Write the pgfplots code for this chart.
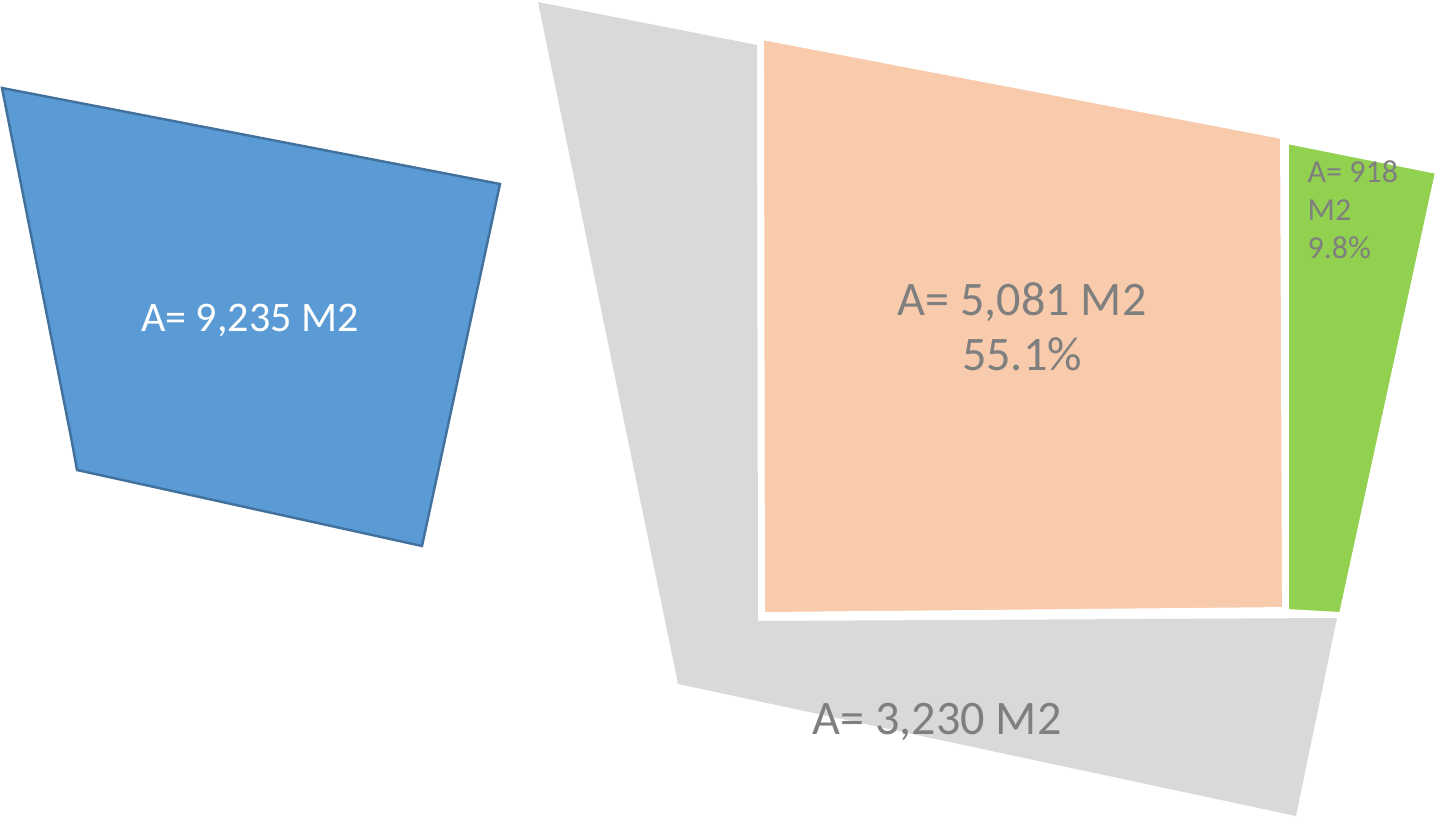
\documentclass[border=0pt]{standalone}
\usepackage{pgfplots}
\pgfplotsset{compat=1.18}
\usepackage{fontspec}
\setmainfont{Carlito}
\definecolor{blueF}{HTML}{5B9BD5}
\definecolor{blueD}{HTML}{41719C}
\definecolor{orangeF}{HTML}{F8CBAD}
\definecolor{greenF}{HTML}{92D050}
\definecolor{grayF}{HTML}{D9D9D9}
\definecolor{txt}{HTML}{7F7F7F}
\begin{document}
\begin{tikzpicture}
\begin{axis}[
  scale only axis, width=14.37cm, height=8.17cm,
  xmin=0, xmax=1437, ymin=0, ymax=817, y dir=reverse,
  hide axis, clip=true]
\addplot[draw=none, forget plot] coordinates {(0,0) (1437,817)};
% blue
\addplot[fill=blueF, draw=blueD, line width=0.7pt] coordinates {
 (2,88) (500,184) (422,546) (77,470) (71,437) (2,88)} -- cycle;
% gray
\addplot[fill=grayF, draw=none] coordinates {
 (538,2) (757,45) (758,621) (1337,618) (1296,816) (678,684) (538,2)} -- cycle;
% orange
\addplot[fill=orangeF, draw=white, line width=1.1pt] coordinates {
 (762,38) (1282,137) (1284,609) (763,614) (762,38)} -- cycle;
% green
\addplot[fill=greenF, draw=white, line width=1.1pt] coordinates {
 (1287,142) (1437,172) (1341,614) (1287,611) (1287,142)} -- cycle;

\node[text=white, font=\fontsize{12}{14}\selectfont] at (axis cs:250,321) {A= 9,235 M2};
\node[text=txt, align=center, font=\fontsize{13.7}{15.6}\selectfont] at (axis cs:1022,327) {A= 5,081 M2\\55.1\%};
\node[text=txt, font=\fontsize{13.7}{15.6}\selectfont] at (axis cs:937,722) {A= 3,230 M2};
\node[text=txt, align=left, anchor=north west, inner sep=0pt, font=\fontsize{9.1}{10.8}\selectfont] at (axis cs:1307,160) {A= 918\\M2\\9.8\%};
\end{axis}
\end{tikzpicture}
\end{document}
